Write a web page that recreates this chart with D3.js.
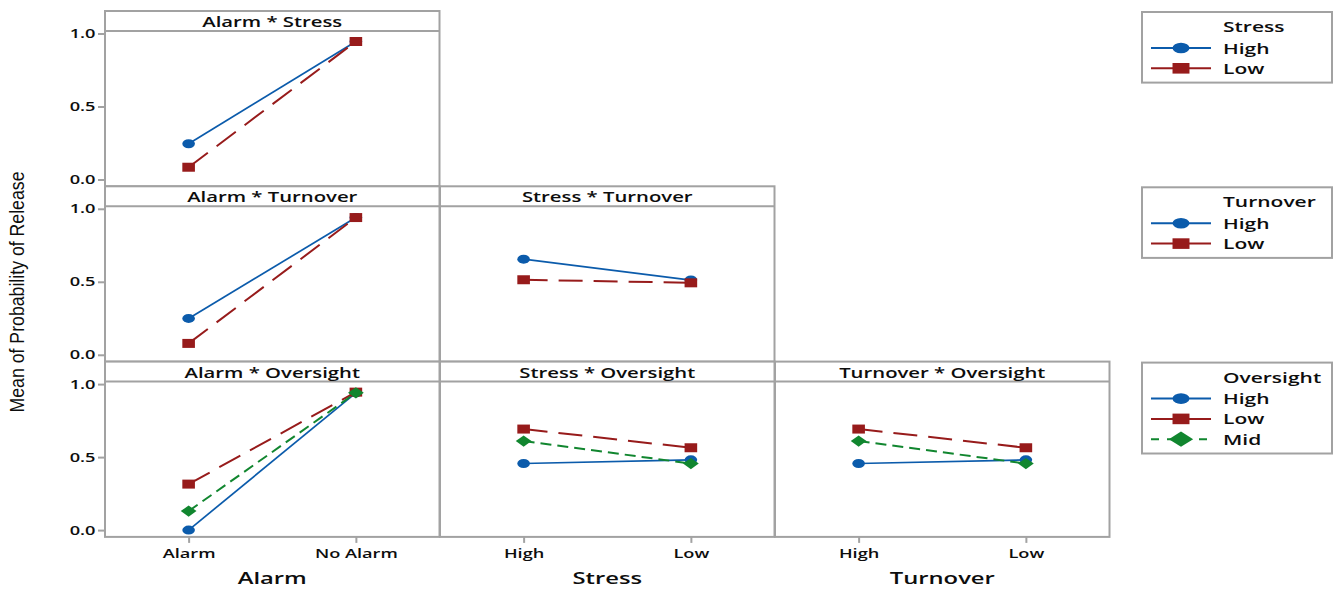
<!DOCTYPE html>
<html>
<head>
<meta charset="utf-8">
<script src="https://cdn.jsdelivr.net/npm/d3@7"></script>
<style>
body { margin: 0; background: #fff; }
text { font-family: "Open Sans", "Noto Sans", sans-serif; fill: #0d0d0d; }
</style>
</head>
<body>
<script>
var W = 1334, H = 591;
var S = 1.4; // the original picture is stretched sideways, glyphs and markers too

// categories and tick labels
var alarmLevels = ["Alarm", "No Alarm"];
var stressLevels = ["High", "Low"];
var turnoverLevels = ["High", "Low"];
var oversightLevels = ["High", "Low", "Mid"];
var yTickValues = [0, 0.5, 1];

// means of probability of release, one value per x level
var alarmStressHigh = [0.245, 0.945];
var alarmStressLow = [0.084, 0.945];
var alarmTurnoverHigh = [0.249, 0.94];
var alarmTurnoverLow = [0.078, 0.94];
var stressTurnoverHigh = [0.655, 0.512];
var stressTurnoverLow = [0.514, 0.493];
var alarmOversightHigh = [0.0, 0.94];
var alarmOversightLow = [0.315, 0.945];
var alarmOversightMid = [0.13, 0.94];
var stressOversightHigh = [0.456, 0.481];
var stressOversightLow = [0.692, 0.564];
var stressOversightMid = [0.61, 0.456];
var turnoverOversightHigh = [0.456, 0.481];
var turnoverOversightLow = [0.692, 0.564];
var turnoverOversightMid = [0.61, 0.456];

var colors = {High: "#0b5bab", Low: "#971b1b", Mid: "#11862f"};
var dashes = {High: null, Low: "24,11", Mid: "11,6"};
var shapes = {High: "circle", Low: "square", Mid: "diamond"};

var panels = [
  {row: 0, col: 0, title: "Alarm * Stress", levels: alarmLevels,
   lines: [["High", alarmStressHigh], ["Low", alarmStressLow]]},
  {row: 1, col: 0, title: "Alarm * Turnover", levels: alarmLevels,
   lines: [["High", alarmTurnoverHigh], ["Low", alarmTurnoverLow]]},
  {row: 1, col: 1, title: "Stress * Turnover", levels: stressLevels,
   lines: [["High", stressTurnoverHigh], ["Low", stressTurnoverLow]]},
  {row: 2, col: 0, title: "Alarm * Oversight", levels: alarmLevels,
   lines: [["High", alarmOversightHigh], ["Low", alarmOversightLow], ["Mid", alarmOversightMid]]},
  {row: 2, col: 1, title: "Stress * Oversight", levels: stressLevels,
   lines: [["High", stressOversightHigh], ["Low", stressOversightLow], ["Mid", stressOversightMid]]},
  {row: 2, col: 2, title: "Turnover * Oversight", levels: turnoverLevels,
   lines: [["High", turnoverOversightHigh], ["Low", turnoverOversightLow], ["Mid", turnoverOversightMid]]}
];

var xTitles = ["Alarm", "Stress", "Turnover"];
var legends = [
  {row: 0, title: "Stress", items: stressLevels},
  {row: 1, title: "Turnover", items: turnoverLevels},
  {row: 2, title: "Oversight", items: oversightLevels}
];

var colLeft = [105, 440, 775], colW = 334.5;
var rowTop = [11, 186.3, 361.6], rowH = 175.3, stripH = 20;
var gray = "#a2a2a2";

var svg = d3.select("body").append("svg")
    .attr("width", W)
    .attr("height", H);

function stretchText(g, x, y, str, size, weight, anchor) {
  return g.append("text")
    .attr("transform", "translate(" + x + "," + y + ") scale(" + S + ",1)")
    .attr("text-anchor", anchor || "middle")
    .style("font-size", size + "px")
    .style("font-weight", weight)
    .text(str);
}

// marker drawn round (0,0) then stretched like the picture
function marker(g, shape, x, y, k, sx) {
  var sym = d3.symbol();
  var rot = "";
  if (shape == "circle") sym.type(d3.symbolCircle).size(Math.PI * k * k);
  else if (shape == "square") sym.type(d3.symbolSquare).size(4 * k * k);
  else { sym.type(d3.symbolSquare).size(2 * k * k * 1.5); rot = " rotate(45)"; }
  g.append("path")
    .attr("d", sym())
    .attr("transform", "translate(" + x + "," + y + ") scale(" + sx + ",1)" + rot)
    .style("fill", colors[shape == "circle" ? "High" : shape == "square" ? "Low" : "Mid"]);
}

function yScaleFor(row) {
  var top = rowTop[row] + stripH, bottom = rowTop[row] + rowH;
  return d3.scaleLinear().domain([-0.0466, 1.0171]).range([bottom, top]);
}

panels.forEach(function(p) {
  var left = colLeft[p.col], top = rowTop[p.row];
  var g = svg.append("g");
  var x = d3.scalePoint().domain(p.levels).range([left, left + colW]).padding(0.5);
  var y = yScaleFor(p.row);

  g.append("rect")
    .attr("x", left).attr("y", top)
    .attr("width", colW).attr("height", rowH)
    .style("fill", "#fff").style("stroke", gray).style("stroke-width", 2);
  g.append("line")
    .attr("x1", left).attr("x2", left + colW)
    .attr("y1", top + stripH).attr("y2", top + stripH)
    .style("stroke", gray).style("stroke-width", 2);
  stretchText(g, left + colW / 2, top + 16, p.title, 14.5, 600);

  // y axis only on the first column
  if (p.col == 0) {
    var ya = g.append("g")
      .attr("transform", "translate(" + left + ",0)")
      .call(d3.axisLeft(y).tickValues(yTickValues).tickFormat(d3.format(".1f")).tickSize(7).tickSizeOuter(0));
    ya.select(".domain").remove();
    ya.selectAll("line").style("stroke", gray).style("stroke-width", 2);
    ya.selectAll("text")
      .attr("x", -9.5 / S)
      .attr("transform", "scale(" + S + ",1)")
      .style("font-size", "13px").style("font-weight", 600)
      .style("font-family", "'Open Sans', sans-serif").style("fill", "#0d0d0d");
  }

  // x axis only on the bottom row
  if (p.row == 2) {
    var xa = g.append("g")
      .attr("transform", "translate(0," + (top + rowH) + ")")
      .call(d3.axisBottom(x).tickSize(6).tickPadding(5.5).tickSizeOuter(0));
    xa.select(".domain").remove();
    xa.selectAll("line").style("stroke", gray).style("stroke-width", 2);
    xa.selectAll("text")
      .attr("transform", "scale(" + S + ",1)")
      .style("font-size", "13px").style("font-weight", 600)
      .style("font-family", "'Open Sans', sans-serif").style("fill", "#0d0d0d");
    stretchText(g, left + colW / 2, 584, xTitles[p.col], 17, 600);
  }

  var line = d3.line()
    .x(function(d, i) { return x(p.levels[i]); })
    .y(function(d) { return y(d); });

  p.lines.forEach(function(s) {
    var name = s[0], vals = s[1];
    g.append("path")
      .attr("d", line(vals))
      .style("fill", "none")
      .style("stroke", colors[name])
      .style("stroke-width", name == "High" ? 1.7 : 2)
      .style("stroke-dasharray", dashes[name]);
    vals.forEach(function(v, i) {
      marker(g, shapes[name], x(p.levels[i]), y(v), shapes[name] == "diamond" ? 4.6 : 4.5, S);
    });
  });
});

// legends on the right
legends.forEach(function(lg) {
  var top = rowTop[lg.row] + 1;
  var g = svg.append("g");
  g.append("rect")
    .attr("x", 1142).attr("y", top)
    .attr("width", 190).attr("height", 30 + lg.items.length * 20.3)
    .style("fill", "#fff").style("stroke", gray).style("stroke-width", 2);
  stretchText(g, 1223, top + 20, lg.title, 15, 600, "start");
  lg.items.forEach(function(name, i) {
    var ly = top + 36 + i * 20.3;
    g.append("line")
      .attr("x1", 1151).attr("x2", 1211)
      .attr("y1", ly).attr("y2", ly)
      .style("stroke", colors[name])
      .style("stroke-width", 2)
      .style("stroke-dasharray", name == "Mid" ? "8,8" : null);
    marker(g, shapes[name], 1181, ly, shapes[name] == "diamond" ? 6.2 : 5.3, 1.6);
    stretchText(g, 1223, ly + 5.5, name, 15, 600, "start");
  });
});

// y axis title
svg.append("text")
  .attr("transform", "translate(24,292) rotate(-90)")
  .attr("text-anchor", "middle")
  .attr("textLength", 241)
  .attr("lengthAdjust", "spacingAndGlyphs")
  .style("font-family", "'Liberation Sans', Arial, sans-serif")
  .style("font-size", "20px")
  .text("Mean of Probability of Release");
</script>
</body>
</html>
